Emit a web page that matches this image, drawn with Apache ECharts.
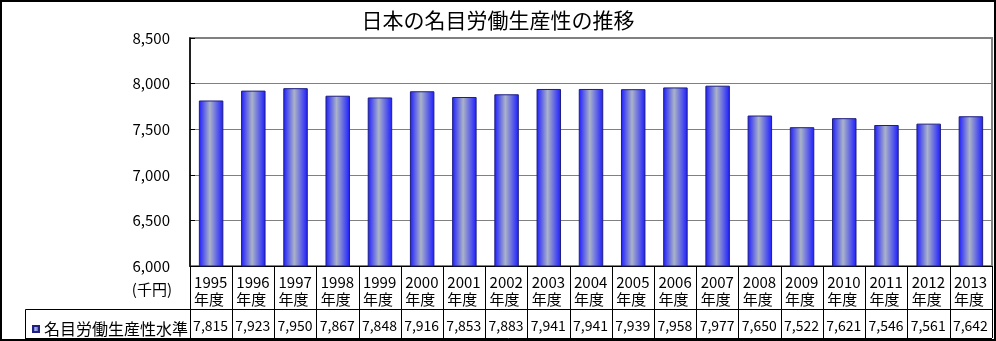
<!DOCTYPE html>
<html>
<head>
<meta charset="utf-8">
<script src="https://cdn.jsdelivr.net/npm/echarts@6/dist/echarts.min.js"></script>
<style>
  html, body { margin: 0; padding: 0; background: #fff; }
  #chart { width: 996px; height: 341px; }
</style>
</head>
<body>
<div id="chart"></div>
<script>
// Nominal labour productivity level in Japan, fiscal years 1995–2013 (thousand yen)
const years = ['1995', '1996', '1997', '1998', '1999', '2000', '2001', '2002', '2003', '2004',
               '2005', '2006', '2007', '2008', '2009', '2010', '2011', '2012', '2013'];
const productivity = [7815, 7923, 7950, 7867, 7848, 7916, 7853, 7883, 7941, 7941,
                      7939, 7958, 7977, 7650, 7522, 7621, 7546, 7561, 7642];
const seriesName = '名目労働生産性水準';
const yearSuffix = '年度';
const unitLabel = '(千円)';
const chartTitle = '日本の名目労働生産性の推移';

const FONT = '"Noto Sans CJK JP", "Noto Sans", sans-serif';
const W = 996, H = 341;
const gridLeft = 190, gridRight = 4, gridTop = 38, gridBottom = 75;
const rowH1 = 43;            // height of the year row of the data table
const tableLeft = 25;
const tableBottom = 338;

const fmt = v => v.toLocaleString('en-US');

const barFill = {
  type: 'linear', x: 0, y: 0, x2: 1, y2: 0,
  colorStops: [
    { offset: 0, color: '#1c1cff' },
    { offset: 0.45, color: '#aab3c8' },
    { offset: 1, color: '#1c1cff' }
  ]
};

const chart = echarts.init(document.getElementById('chart'), null, { renderer: 'canvas' });
const axisY = H - gridBottom;           // pixel row of the category axis
const dividerY = axisY + rowH1;         // line between the year row and value row
const plotRight = W - gridRight;

chart.setOption({
  animation: false,
  backgroundColor: '#fff',
  textStyle: { fontFamily: FONT, color: '#000' },
  title: {
    text: chartTitle,
    left: 'center',
    top: 5,
    textStyle: { fontFamily: FONT, fontSize: 21, fontWeight: 'normal', color: '#000' }
  },
  legend: {
    data: [seriesName],
    left: 27,
    top: dividerY + 7,
    itemWidth: 6,
    itemHeight: 6,
    icon: 'rect',
    textStyle: { fontFamily: FONT, fontSize: 16, color: '#000' }
  },
  grid: {
    left: gridLeft, right: gridRight, top: gridTop, bottom: gridBottom,
    show: true, borderColor: '#808080', borderWidth: 2, containLabel: false
  },
  xAxis: [
    {
      type: 'category',
      data: years,
      position: 'bottom',
      axisLine: { show: true, lineStyle: { color: '#000', width: 1 } },
      axisTick: { show: true, length: tableBottom - axisY, lineStyle: { color: '#000', width: 1 } },
      axisLabel: {
        interval: 0,
        margin: 8,
        formatter: y => `{c|${y}}\n{c|${yearSuffix}}`,
        rich: {
          c: { width: 34, align: 'left', fontSize: 15, lineHeight: 17, fontFamily: FONT, color: '#000' }
        }
      },
      splitLine: { show: false }
    },
    {
      type: 'category',
      data: productivity.map(fmt),
      position: 'bottom',
      offset: rowH1,
      axisLine: { show: true, lineStyle: { color: '#000', width: 1 } },
      axisTick: { show: false },
      axisLabel: {
        interval: 0,
        margin: 8,
        formatter: v => `{c|${v}}`,
        rich: {
          c: { width: 36, align: 'left', fontSize: 14, lineHeight: 17, fontFamily: FONT, color: '#000' }
        }
      },
      splitLine: { show: false }
    }
  ],
  yAxis: {
    type: 'value',
    min: 6000,
    max: 8500,
    interval: 500,
    name: unitLabel,
    nameLocation: 'start',
    nameGap: 23,
    nameTextStyle: { fontFamily: FONT, fontSize: 15, color: '#000', align: 'right', verticalAlign: 'middle', padding: [0, 18, 0, 0] },
    axisLine: { show: true, lineStyle: { color: '#000', width: 1.5 } },
    axisTick: { show: true, inside: true, length: 5, lineStyle: { color: '#000' } },
    axisLabel: { margin: 20, fontSize: 15, fontFamily: FONT, color: '#000', formatter: fmt },
    splitLine: { show: true, lineStyle: { color: '#808080', width: 1 } }
  },
  series: [
    {
      name: seriesName,
      type: 'bar',
      xAxisIndex: 0,
      data: productivity,
      barWidth: '58%',
      itemStyle: { color: barFill, borderColor: '#1f1f80', borderWidth: 1 }
    }
  ],
  graphic: [
    // frame of the legend cell in the value row
    {
      type: 'rect', z: 100, silent: true,
      shape: { x: tableLeft + 0.5, y: dividerY + 0.5, width: gridLeft - tableLeft, height: tableBottom - dividerY },
      style: { fill: 'none', stroke: '#000', lineWidth: 1 }
    },
    {
      type: 'line', z: 100, silent: true,
      shape: { x1: tableLeft, y1: tableBottom + 0.5, x2: plotRight, y2: tableBottom + 0.5 },
      style: { stroke: '#000', lineWidth: 1 }
    },
    // outer chart border
    {
      type: 'rect', z: 100, silent: true,
      shape: { x: 1, y: 1, width: W - 2, height: H - 2 },
      style: { fill: 'none', stroke: '#000', lineWidth: 2 }
    }
  ]
});
</script>
</body>
</html>
